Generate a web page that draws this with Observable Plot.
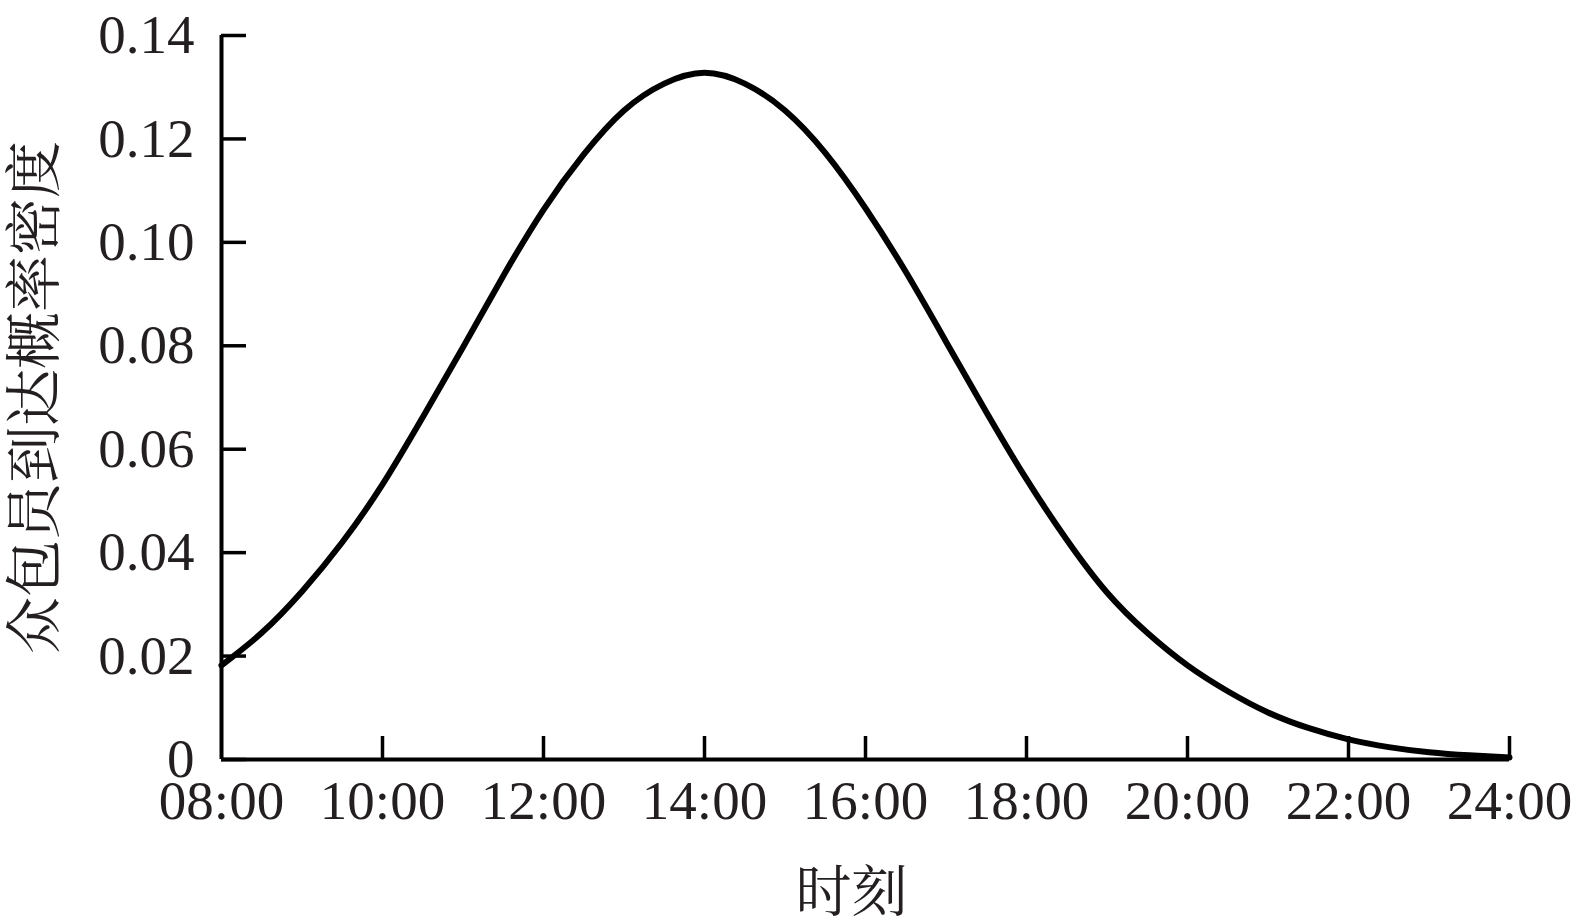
<!DOCTYPE html>
<html>
<head>
<meta charset="utf-8">
<script src="https://cdn.jsdelivr.net/npm/d3@7"></script>
<script src="https://cdn.jsdelivr.net/npm/@observablehq/plot@0.6"></script>
<style>
  html, body { margin: 0; padding: 0; background: #fff; }
  #chart { width: 1574px; height: 920px; }
</style>
</head>
<body>
<div id="chart"></div>
<script>
// Time of day (hours) and read density values
const hours = [8, 8.5, 9, 9.5, 10, 10.5, 11, 11.5, 12, 12.5, 13, 13.5, 14, 14.5, 15, 15.5, 16, 16.5, 17, 17.5, 18, 18.5, 19, 19.5, 20, 20.5, 21, 21.5, 22, 22.5, 23, 23.5, 24];
const density = [0.0182, 0.0245, 0.0325, 0.0420, 0.0532, 0.0662, 0.0797, 0.0935, 0.1063, 0.1170, 0.1255, 0.1307, 0.1328, 0.1307, 0.1255, 0.1173, 0.1066, 0.0943, 0.0808, 0.0672, 0.0542, 0.0425, 0.0323, 0.0245, 0.0182, 0.0132, 0.0091, 0.0061, 0.0039, 0.0024, 0.0014, 0.0008, 0.0004];
const xTicks = [8, 10, 12, 14, 16, 18, 20, 22, 24];
const xTickLabels = ["08:00", "10:00", "12:00", "14:00", "16:00", "18:00", "20:00", "22:00", "24:00"];
const yTicks = [0, 0.02, 0.04, 0.06, 0.08, 0.10, 0.12, 0.14];
const yTickLabels = ["0", "0.02", "0.04", "0.06", "0.08", "0.10", "0.12", "0.14"];
const xLabel = "时刻";
const yLabel = "众包员到达概率密度";

const data = hours.map((h, i) => ({h, v: density[i]}));
const serif = "'Liberation Serif', 'Times New Roman', serif";
const cjk = "'Noto Serif CJK SC', 'Noto Sans CJK SC', sans-serif";

const chart = Plot.plot({
  width: 1574,
  height: 920,
  marginLeft: 221,
  marginRight: 65,
  marginTop: 35,
  marginBottom: 161,
  style: {background: "#fff", color: "#111"},
  x: {domain: [8, 24], ticks: xTicks, label: null},
  y: {domain: [0, 0.14], ticks: yTicks, label: null},
  marks: [
    Plot.ruleY([0], {stroke: "#000", strokeWidth: 4}),
    Plot.ruleX([8], {stroke: "#000", strokeWidth: 4}),
    // inward ticks
    Plot.axisY(yTicks, {anchor: "left", text: null, tickSize: 25, dx: 25, strokeWidth: 3.5, stroke: "#000", label: null}),
    Plot.axisX(xTicks.slice(1), {anchor: "bottom", text: null, tickSize: 23, dy: -23, strokeWidth: 3.5, stroke: "#000", label: null}),
    // tick labels
    Plot.axisY(yTicks, {anchor: "left", tickSize: 0, tickPadding: 27, fontSize: 55, fontFamily: serif, fill: "#231f20",
      tickFormat: d => yTickLabels[yTicks.indexOf(d)], label: null}),
    Plot.axisX(xTicks, {anchor: "bottom", tickSize: 0, tickPadding: 20, fontSize: 55, fontFamily: serif, fill: "#231f20",
      tickFormat: d => xTickLabels[xTicks.indexOf(d)], label: null}),
    Plot.line(data, {x: "h", y: "v", stroke: "#000", strokeWidth: 6, curve: "natural"}),
    // axis titles
    Plot.text([xLabel], {frameAnchor: "bottom", dx: -14, dy: 134, fontSize: 56, fontFamily: cjk, fill: "#231f20", lineAnchor: "middle"}),
    Plot.text([yLabel], {frameAnchor: "left", textAnchor: "middle", dx: -186, rotate: -90, fontSize: 57, fontFamily: cjk, fill: "#231f20", lineAnchor: "middle"})
  ]
});
document.getElementById("chart").appendChild(chart);
</script>
</body>
</html>
